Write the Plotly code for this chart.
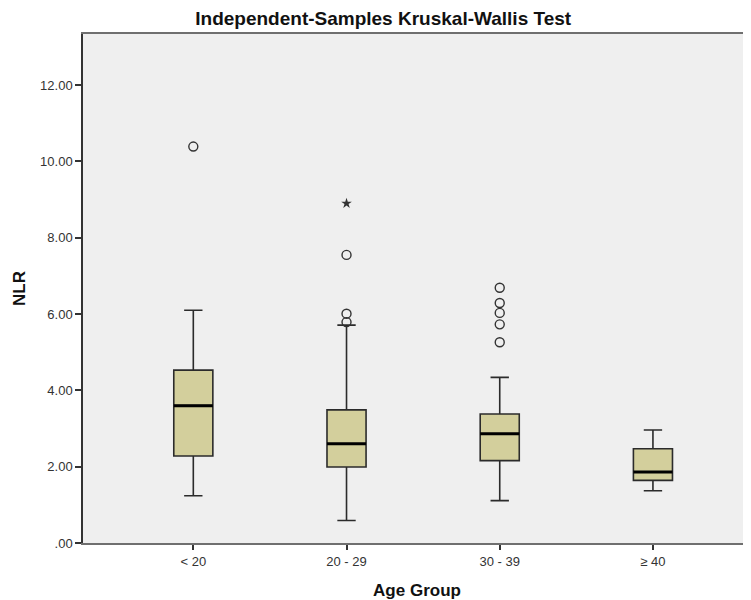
import plotly.graph_objects as go

categories = ["< 20", "20 - 29", "30 - 39", "≥ 40"]
q1 = [2.28, 1.99, 2.16, 1.64]
median = [3.60, 2.60, 2.86, 1.86]
q3 = [4.53, 3.49, 3.38, 2.47]
lower_whisker = [1.24, 0.59, 1.11, 1.37]
upper_whisker = [6.10, 5.71, 4.34, 2.96]

outlier_cats = ["< 20", "20 - 29", "20 - 29", "20 - 29", "30 - 39", "30 - 39", "30 - 39", "30 - 39", "30 - 39"]
outlier_vals = [10.39, 7.55, 6.01, 5.79, 6.69, 6.29, 6.03, 5.73, 5.26]
extreme_cats = ["20 - 29"]
extreme_vals = [8.90]

y_tickvals = [0, 2, 4, 6, 8, 10, 12]
y_ticktext = [".00", "2.00", "4.00", "6.00", "8.00", "10.00", "12.00"]

FONT = "Liberation Sans, Arial, sans-serif"

fig = go.Figure()
fig.add_trace(go.Box(
    x=categories, q1=q1, median=median, q3=q3,
    lowerfence=lower_whisker, upperfence=upper_whisker,
    fillcolor="#D3CF9C", line=dict(color="#2b2b2b", width=1.6),
    width=0.255, whiskerwidth=0.47, boxpoints=False, hoverinfo="skip",
    showlegend=False,
))
# thicker black median line
fig.add_trace(go.Box(
    x=categories, q1=median, median=median, q3=median,
    lowerfence=median, upperfence=median,
    fillcolor="rgba(0,0,0,0)", line=dict(color="#000000", width=3),
    width=0.255, whiskerwidth=0, boxpoints=False, hoverinfo="skip",
    showlegend=False,
))
fig.add_trace(go.Scatter(
    x=outlier_cats, y=outlier_vals, mode="markers",
    marker=dict(symbol="circle-open", size=9, color="#333333", line=dict(width=1.4)),
    showlegend=False,
))
fig.add_trace(go.Scatter(
    x=extreme_cats, y=extreme_vals, mode="markers",
    marker=dict(symbol="star", size=8, color="#333333"),
    showlegend=False,
))

fig.update_layout(
    width=743, height=592,
    margin=dict(l=75, r=0, t=26, b=57),
    paper_bgcolor="white", plot_bgcolor="#EFEFEF",
    font=dict(family=FONT, color="#333333", size=13),
    title=dict(text="<b>Independent-Samples Kruskal-Wallis Test</b>",
               x=0.505, xanchor="center", y=0.983, yanchor="middle",
               font=dict(size=19, color="#111111", family=FONT)),
    boxmode="overlay",
)
fig.update_xaxes(
    type="category", categoryorder="array", categoryarray=categories,
    range=[-0.72, 3.64], showgrid=False, zeroline=False,
    showline=True, linecolor="#6f6f6f", linewidth=2, mirror=True,
    ticks="outside", ticklen=5, tickcolor="#333333", tickwidth=1.5,
    tickfont=dict(size=13, color="#333333"),
    title=dict(text="<b>Age Group</b>", font=dict(size=17, color="#111111"), standoff=17),
)
fig.update_yaxes(
    range=[0, 13.34], tickvals=y_tickvals, ticktext=y_ticktext,
    showgrid=False, zeroline=False,
    showline=True, linecolor="#333333", linewidth=1.5,
    ticks="outside", ticklen=6, tickcolor="#333333", tickwidth=1.5,
    tickfont=dict(size=13, color="#333333"),
    title=dict(text="<b>NLR</b>", font=dict(size=17, color="#111111"), standoff=10),
)

fig.write_html("out.html")
